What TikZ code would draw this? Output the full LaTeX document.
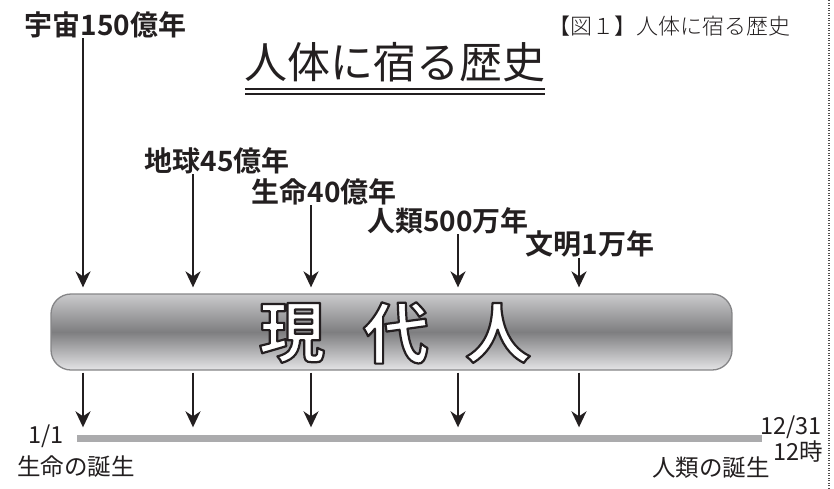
\documentclass[tikz,border=0pt]{standalone}
\usepackage{fontspec}
\newfontfamily\jp{Noto Sans CJK JP}
\newfontfamily\jpb{Noto Sans CJK JP}[UprightFont=* Bold]
\newfontfamily\jpl{Noto Sans CJK JP}[UprightFont=* Light]
\usetikzlibrary{arrows.meta}
\definecolor{barTop}{HTML}{CACACC}
\definecolor{barMid}{HTML}{7E7E80}
\definecolor{barBot}{HTML}{E4E4E6}
\definecolor{barEdge}{HTML}{858587}
\definecolor{tlgray}{HTML}{ABABAD}
\definecolor{ink}{HTML}{231F20}
\newcommand\strokedtext[1]{{\color{white}\special{pdf:literal direct 2 Tr 2.2 w 1 j 0.14 0.12 0.13 RG}#1\special{pdf:literal direct 0 Tr}}}
\tikzset{
  lbl/.style={inner sep=0pt, text=ink, font=\jpb\fontsize{28}{30}\selectfont},
  small/.style={inner sep=0pt, text=ink, font=\jp\fontsize{23.5}{26}\selectfont},
  arr/.style={draw=ink, line width=2pt, -{Stealth[length=16pt,width=15pt,inset=5pt]}},
  bigch/.style={inner sep=0pt, font=\jpb\fontsize{66}{70}\selectfont},
  ul/.style={draw=ink, line width=1.6pt},
}
\begin{document}
\begin{tikzpicture}[x=1pt,y=-1pt]
\useasboundingbox (0,0) rectangle (834,488);
% dotted frame edge
\coordinate (dt) at (829,0);
\coordinate (db) at (829,488);
\draw[ink!80, line width=1.3pt, dash pattern=on 1.2pt off 1.3pt] (dt) -- (db);

% titles
\node[inner sep=0pt, text=ink, font=\jpl\fontsize{22}{24}\selectfont] (cap) at (669,26) {【図１】人体に宿る歴史};
\node[inner sep=0pt, text=ink, font=\jp\fontsize{43}{46}\selectfont] (title) at (395,62) {人体に宿る歴史};
\coordinate (ulL) at (245,89);
\coordinate (ulR) at (545,89);
\draw[ul] (ulL) -- (ulR);
\draw[ul] ([yshift=-5pt]ulL) -- ([yshift=-5pt]ulR);

% labels
\node[lbl] (l1) at (105.5,25) {宇宙150億年};
\node[lbl] (l2) at (217,161) {地球45億年};
\node[lbl] (l3) at (324,192) {生命40億年};
\node[lbl] (l4) at (448,221) {人類500万年};
\node[lbl] (l5) at (590,244) {文明1万年};

% bar
\node[draw=barEdge, line width=1.3pt, rounded corners=20pt,
      top color=barTop, bottom color=barBot, middle color=barMid,
      minimum width=681pt, minimum height=76pt, inner sep=0pt] (bar) at (391.5,332) {};

% outlined characters
\node[bigch] (g1) at (292,333) {\strokedtext{現}};
\node[bigch] (g2) at (396,333) {\strokedtext{代}};
\node[bigch] (g3) at (498,333) {\strokedtext{人}};

% timeline
\node[fill=tlgray, minimum width=685pt, minimum height=7pt, inner sep=0pt] (tl) at (419.5,438) {};

% arrow columns
\coordinate (a1) at (83,0);
\coordinate (a2) at (193,0);
\coordinate (a3) at (311,0);
\coordinate (a4) at (458,0);
\coordinate (a5) at (579,0);
\foreach \k in {1,...,5}{
  \draw[arr, shorten >=6pt] (l\k.south -| a\k) -- (bar.north -| a\k);
  \draw[arr, shorten <=2pt, shorten >=7pt] (bar.south -| a\k) -- (tl.north -| a\k);
}

% bottom labels
\node[small] (n1) at (46,436) {1/1};
\node[small] (n2) at (76,467) {生命の誕生};
\node[small] (n3) at (791,427) {12/31};
\node[small] (n4) at (798,452) {12時};
\node[small] (n5) at (711,468) {人類の誕生};
\end{tikzpicture}
\end{document}
